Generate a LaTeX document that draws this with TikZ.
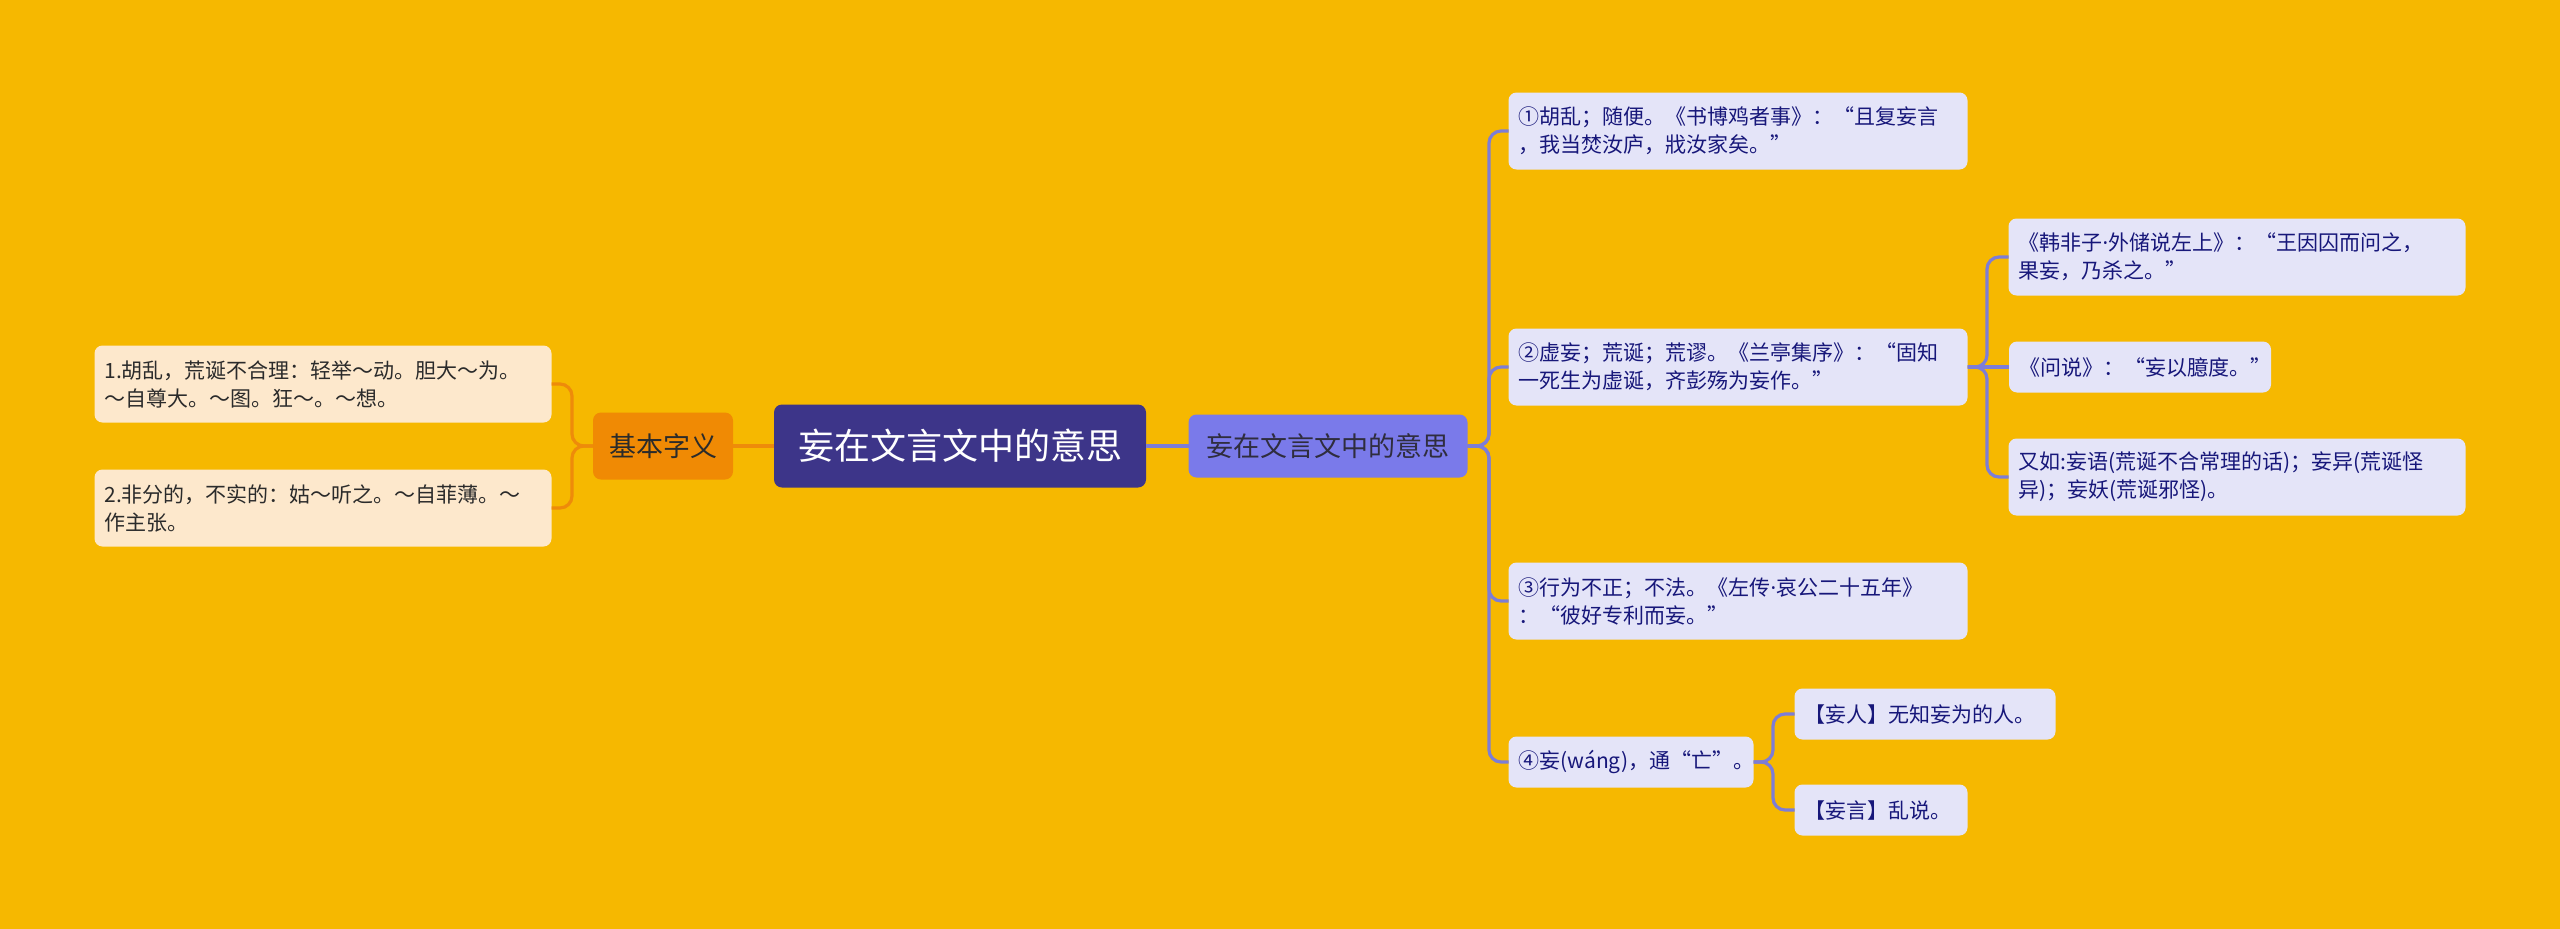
\documentclass[tikz,border=0pt]{standalone}
\usepackage{fontspec}
\setmainfont{Noto Sans CJK SC}
\newfontfamily\latinfont{Noto Sans}
\newcommand{\middot}{{\latinfont ·}}
\definecolor{bgcol}{HTML}{F6B800}
\definecolor{leftfill}{HTML}{FDE8CC}
\definecolor{lefttext}{HTML}{2B2B2B}
\definecolor{orangeline}{HTML}{EE8B0A}
\definecolor{basicfill}{HTML}{F08A04}
\definecolor{rootfill}{HTML}{3D3589}
\definecolor{secfill}{HTML}{7A7AEA}
\definecolor{rightfill}{HTML}{E4E4F8}
\definecolor{righttext}{HTML}{17177A}
\definecolor{purpleline}{HTML}{7D7DD6}
\begin{document}
\begin{tikzpicture}[x=1pt,y=-1pt,
  every node/.style={outer sep=0pt, rounded corners=8pt, font=\fontsize{21}{28}\selectfont},
  lnote/.style={fill=leftfill, text=lefttext, align=left, text width=437pt, inner xsep=10pt, minimum height=77pt},
  rnote/.style={fill=rightfill, text=righttext, align=left, inner xsep=10pt, minimum height=77pt},
  rshort/.style={rnote, minimum height=51pt},
  oline/.style={draw=orangeline, line width=3.2pt, rounded corners=12pt},
  pline/.style={draw=purpleline, line width=3.2pt, rounded corners=12pt}]
\useasboundingbox[fill=bgcol] (0,0) rectangle (2560,929);
% centre and first level
\node[fill=rootfill, text=white, minimum width=372pt, minimum height=83pt, font=\fontsize{36}{40}\selectfont] (root) at (960,446) {妄在文言文中的意思};
\node[fill=basicfill, text=lefttext, minimum width=140pt, minimum height=67pt, font=\fontsize{27}{30}\selectfont] (basic) at (663,446) {基本字义};
\node[fill=secfill, text=lefttext!80!rootfill, minimum width=279pt, minimum height=63pt, font=\fontsize{27}{30}\selectfont] (meaning) at (1328,446) {妄在文言文中的意思};
% left side
\node[lnote] (def1) at (323,384) {1.胡乱，荒诞不合理：轻举～动。胆大～为。\\～自尊大。～图。狂～。～想。};
\node[lnote] (def2) at (323,508) {2.非分的，不实的：姑～听之。～自菲薄。～\\作主张。};
% right side
\node[rnote, text width=439pt] (m1) at (1738,131) {①胡乱；随便。《书博鸡者事》：“且复妄言\\，我当焚汝庐，戕汝家矣。”};
\node[rnote, text width=439pt] (m2) at (1738,367) {②虚妄；荒诞；荒谬。《兰亭集序》：“固知\\一死生为虚诞，齐彭殇为妄作。”};
\node[rnote, text width=439pt] (m3) at (1738,601) {③行为不正；不法。《左传\middot 哀公二十五年》\\：“彼好专利而妄。”};
\node[rshort, text width=225pt] (m4) at (1631,762) {④妄(wáng)，通“亡”。};
\node[rnote, text width=437pt] (m2a) at (2237,257) {《韩非子\middot 外储说左上》：“王因囚而问之，\\果妄，乃杀之。”};
\node[rshort, text width=242pt] (m2b) at (2140,367) {《问说》：“妄以臆度。”};
\node[rnote, text width=437pt] (m2c) at (2237,477) {又如:妄语(荒诞不合常理的话)；妄异(荒诞怪\\异)；妄妖(荒诞邪怪)。};
\node[rshort, text width=241pt] (m4a) at (1925,714) {【妄人】无知妄为的人。};
\node[rshort, text width=153pt] (m4b) at (1881,810) {【妄言】乱说。};
% junctions
\coordinate (jl) at (572,446);
\coordinate (jr) at (1489,446);
\coordinate (j2) at (1987,367);
\coordinate (j4) at (1773,762);
% connectors
\draw[oline] (root.west) -- (basic.east);
\draw[oline] (basic.west) -- (jl) |- (def1.east);
\draw[oline] (basic.west) -- (jl) |- (def2.east);
\draw[pline] (root.east) -- (meaning.west);
\draw[pline] (meaning.east) -- (jr) |- (m1.west);
\draw[pline] (meaning.east) -- (jr) |- (m2.west);
\draw[pline] (meaning.east) -- (jr) |- (m3.west);
\draw[pline] (meaning.east) -- (jr) |- (m4.west);
\draw[pline] (m2.east) -- (j2) |- (m2a.west);
\draw[pline] (m2.east) -- (m2b.west);
\draw[pline] (m2.east) -- (j2) |- (m2c.west);
\draw[pline] (m4.east) -- (j4) |- (m4a.west);
\draw[pline] (m4.east) -- (j4) |- (m4b.west);
\end{tikzpicture}
\end{document}
